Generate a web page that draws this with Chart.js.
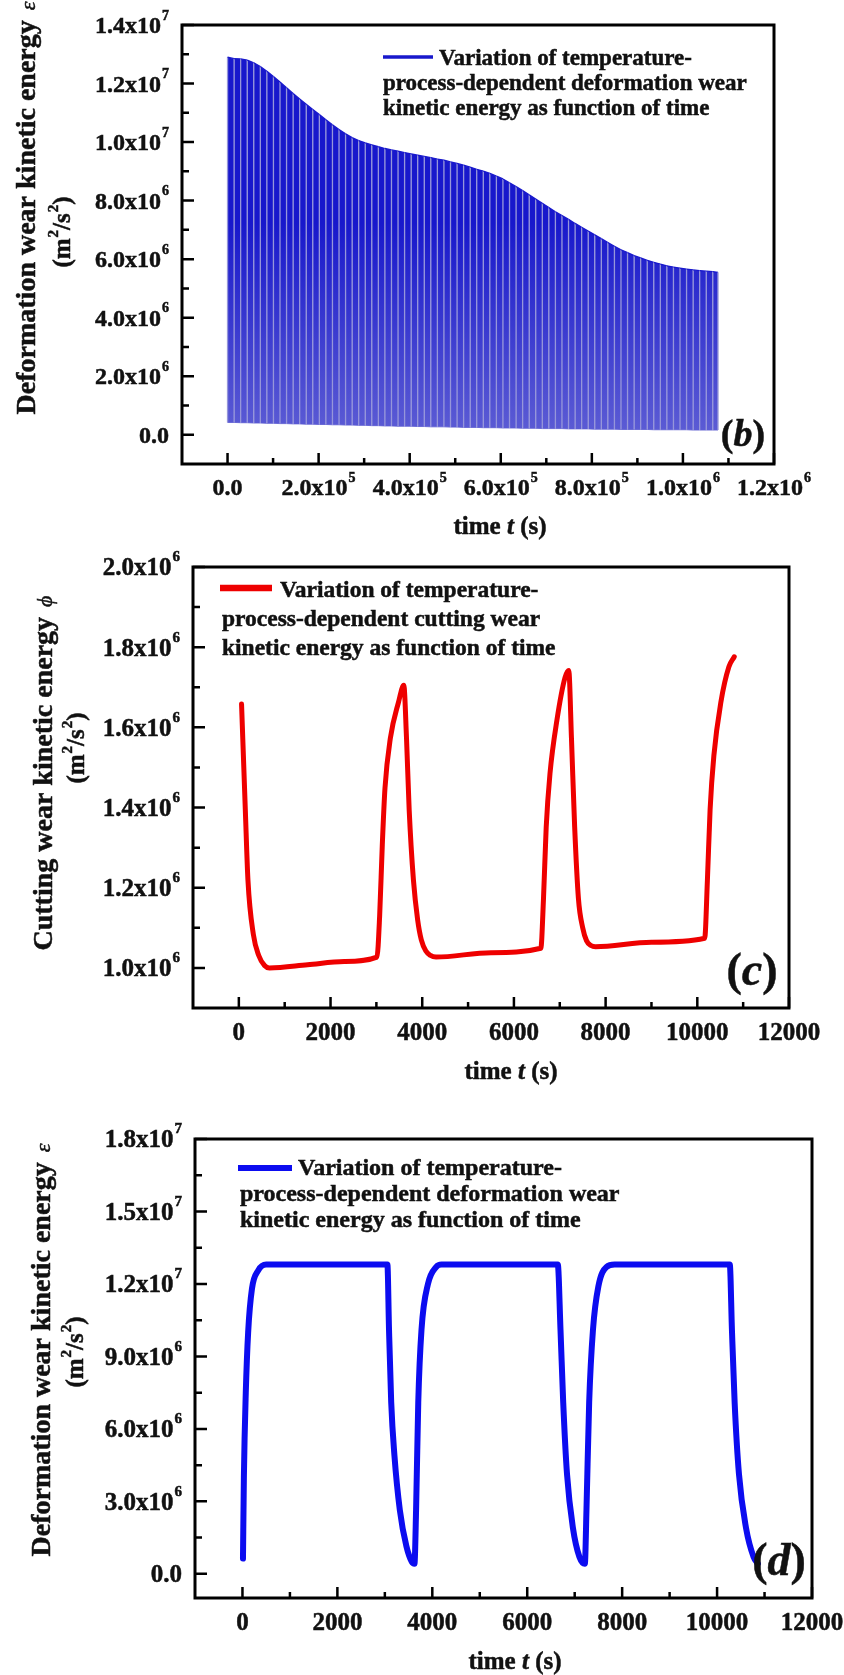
<!DOCTYPE html>
<html lang="en">
<head>
<meta charset="UTF-8">
<title>Wear kinetic energy as function of time</title>
<script src="https://cdn.jsdelivr.net/npm/chart.js@4"></script>
<style>
  body { margin: 0; background: #fff; }
  .wrap { position: relative; width: 844px; height: 1675px; }
  canvas { position: absolute; left: 0; }
</style>
</head>
<body>
<div class="wrap">
  <canvas id="panelB" width="844" height="545" style="top:0px"></canvas>
  <canvas id="panelC" width="844" height="555" style="top:545px"></canvas>
  <canvas id="panelD" width="844" height="575" style="top:1100px"></canvas>
</div>
<script>
// ---- (b) deformation wear kinetic energy, one entry per loading cycle ----
const bCycleTime = [0, 14400, 28800, 43200, 57600, 72000, 86400, 100800, 115200, 129600,
  144000, 158400, 172800, 187200, 201600, 216000, 230400, 244800, 259200, 273600,
  288000, 302400, 316800, 331200, 345600, 360000, 374400, 388800, 403200, 417600,
  432000, 446400, 460800, 475200, 489600, 504000, 518400, 532800, 547200, 561600,
  576000, 590400, 604800, 619200, 633600, 648000, 662400, 676800, 691200, 705600,
  720000, 734400, 748800, 763200, 777600, 792000, 806400, 820800, 835200, 849600,
  864000, 878400, 892800, 907200, 921600, 936000, 950400, 964800, 979200, 993600,
  1008000, 1022400, 1036800, 1051200, 1065600];
const bPeak = [12.9e6, 12.85e6, 12.84e6, 12.80e6, 12.71e6, 12.58e6, 12.42e6, 12.24e6, 12.05e6, 11.86e6,
  11.66e6, 11.47e6, 11.29e6, 11.11e6, 10.94e6, 10.76e6, 10.59e6, 10.43e6, 10.28e6, 10.15e6,
  10.05e6, 9.97e6, 9.90e6, 9.84e6, 9.78e6, 9.73e6, 9.69e6, 9.64e6, 9.60e6, 9.55e6,
  9.51e6, 9.47e6, 9.42e6, 9.38e6, 9.32e6, 9.27e6, 9.21e6, 9.14e6, 9.07e6, 9.01e6,
  8.93e6, 8.84e6, 8.74e6, 8.61e6, 8.48e6, 8.34e6, 8.20e6, 8.05e6, 7.91e6, 7.76e6,
  7.62e6, 7.49e6, 7.36e6, 7.22e6, 7.09e6, 6.96e6, 6.83e6, 6.70e6, 6.57e6, 6.44e6,
  6.32e6, 6.22e6, 6.12e6, 6.04e6, 5.96e6, 5.89e6, 5.83e6, 5.77e6, 5.73e6, 5.69e6,
  5.66e6, 5.63e6, 5.61e6, 5.59e6, 5.57e6];
const bTrough = [0.42e6, 0.42e6, 0.41e6, 0.41e6, 0.40e6, 0.40e6, 0.39e6, 0.39e6, 0.38e6, 0.38e6,
  0.37e6, 0.37e6, 0.36e6, 0.36e6, 0.35e6, 0.35e6, 0.34e6, 0.34e6, 0.33e6, 0.33e6,
  0.32e6, 0.32e6, 0.31e6, 0.31e6, 0.30e6, 0.30e6, 0.29e6, 0.29e6, 0.29e6, 0.28e6,
  0.28e6, 0.27e6, 0.27e6, 0.27e6, 0.26e6, 0.26e6, 0.25e6, 0.25e6, 0.25e6, 0.24e6,
  0.24e6, 0.24e6, 0.23e6, 0.23e6, 0.23e6, 0.22e6, 0.22e6, 0.22e6, 0.21e6, 0.21e6,
  0.21e6, 0.21e6, 0.20e6, 0.20e6, 0.20e6, 0.20e6, 0.19e6, 0.19e6, 0.19e6, 0.19e6,
  0.18e6, 0.18e6, 0.18e6, 0.18e6, 0.18e6, 0.17e6, 0.17e6, 0.17e6, 0.17e6, 0.17e6,
  0.17e6, 0.16e6, 0.16e6, 0.16e6, 0.16e6];
const bEndTime = 1077000, bEndPeak = 5.55e6, bEndTrough = 0.16e6;
const bXTicks = [0, 2e5, 4e5, 6e5, 8e5, 1e6, 1.2e6];
const bYTicks = [0, 2e6, 4e6, 6e6, 8e6, 1e7, 1.2e7, 1.4e7];

// ---- (c) cutting wear kinetic energy ----
const cTime = [59, 141, 199, 316, 434, 560, 668, 1500, 2300, 3012,
  3071, 3129, 3188, 3305, 3481, 3598,
  3657, 3715, 3809, 3900, 3980, 4080, 4180, 4301, 5500, 6587,
  6645, 6704, 6786, 6938, 7114, 7196,
  7255, 7325, 7407, 7500, 7583, 7680, 7780, 9000, 10161,
  10220, 10279, 10361, 10513, 10689, 10806];
const cEnergy = [1.658e6, 1.395e6, 1.218e6, 1.084e6, 1.031e6, 1.006e6, 1.000e6, 1.008e6, 1.016e6, 1.027e6,
  1.129e6, 1.307e6, 1.449e6, 1.573e6, 1.662e6, 1.705e6,
  1.573e6, 1.395e6, 1.218e6, 1.120e6, 1.070e6, 1.042e6, 1.031e6, 1.027e6, 1.038e6, 1.049e6,
  1.173e6, 1.351e6, 1.484e6, 1.618e6, 1.724e6, 1.742e6,
  1.573e6, 1.351e6, 1.173e6, 1.100e6, 1.068e6, 1.056e6, 1.053e6, 1.064e6, 1.074e6,
  1.218e6, 1.395e6, 1.529e6, 1.662e6, 1.751e6, 1.776e6];
const cXTicks = [0, 2000, 4000, 6000, 8000, 10000, 12000];
const cYTicks = [1.0e6, 1.2e6, 1.4e6, 1.6e6, 1.8e6, 2.0e6];

// ---- (d) deformation wear kinetic energy, short run ----
const dTime = [11, 30, 70, 120, 200, 330, 500, 3054,
  3088, 3134, 3202, 3316, 3453, 3567, 3624, 3658, 3704, 3772, 3909, 4080, 4194, 6644,
  6701, 6758, 6838, 6963, 7100, 7214, 7248, 7305, 7385, 7499, 7670, 7840, 10268,
  10313, 10370, 10461, 10610, 10769, 10860];
const dEnergy = [0.63e6, 4.0e6, 7.5e6, 10.0e6, 11.8e6, 12.55e6, 12.8e6, 12.8e6,
  10.1e6, 7.1e6, 4.9e6, 2.64e6, 1.15e6, 0.5e6, 0.42e6, 2.64e6, 7.1e6, 10.1e6, 12.0e6, 12.7e6, 12.8e6, 12.8e6,
  10.1e6, 7.1e6, 4.13e6, 1.9e6, 0.7e6, 0.42e6, 2.64e6, 7.1e6, 10.1e6, 11.9e6, 12.7e6, 12.8e6, 12.8e6,
  10.1e6, 7.1e6, 4.13e6, 1.9e6, 0.7e6, 0.42e6];
const dXTicks = [0, 2000, 4000, 6000, 8000, 10000, 12000];
const dYTicks = [0, 3e6, 6e6, 9e6, 1.2e7, 1.5e7, 1.8e7];

const legendDeform = ['Variation of temperature-', 'process-dependent deformation wear', 'kinetic energy as function of time'];
const legendCutting = ['Variation of temperature-', 'process-dependent cutting wear', 'kinetic energy as function of time'];

const B_BLUE = 'rgb(24,24,204)';
const B_LOW = 'rgb(92,92,212)';
const B_STREAK = 'rgb(150,150,218)';
const RED = 'rgb(238,0,0)';
const D_BLUE = 'rgb(12,12,240)';
const SERIF = '"Liberation Serif", "Times New Roman", Times, serif';

function setFont(ctx, r) {
  ctx.font = (r.style || 'bold') + ' ' + r.size + 'px ' + SERIF;
}
function runsWidth(ctx, runs) {
  let w = 0;
  runs.forEach(r => { setFont(ctx, r); w += (r.dx || 0) + ctx.measureText(r.text).width; });
  return w;
}
// draw a row of text pieces with their own font/raise (slightly emboldened)
function drawRuns(ctx, runs, x, y, align) {
  const w = runsWidth(ctx, runs);
  let cx = align === 'center' ? x - w / 2 : align === 'right' ? x - w : x;
  ctx.lineWidth = 0.5;
  ctx.strokeStyle = ctx.fillStyle;
  runs.forEach(r => {
    setFont(ctx, r);
    cx += r.dx || 0;
    ctx.fillText(r.text, cx, y - (r.rise || 0));
    ctx.strokeText(r.text, cx, y - (r.rise || 0));
    cx += ctx.measureText(r.text).width;
  });
}
function sciRuns(v, size, sup) {
  if (v === 0) return [{ text: '0.0', size }];
  const e = Math.floor(Math.log10(v) + 1e-9);
  const m = v / Math.pow(10, e);
  return [{ text: m.toFixed(1) + 'x10', size }, { text: String(e), size: sup, rise: size * 0.56, dx: 1 }];
}
function minors(ticks) {
  const out = [];
  for (let i = 0; i < ticks.length - 1; i++) out.push((ticks[i] + ticks[i + 1]) / 2);
  return out;
}

function figurePlugin(s) {
  return {
    id: 'figure',
    afterDraw(chart) {
      const ctx = chart.ctx, a = chart.chartArea;
      const sx = chart.scales.x, sy = chart.scales.y;
      const off = s.top;
      ctx.save();
      ctx.strokeStyle = '#000';
      ctx.textBaseline = 'alphabetic';

      // inward tick marks
      ctx.lineWidth = 2.5;
      ctx.beginPath();
      s.yTicks.forEach(v => { const p = sy.getPixelForValue(v); ctx.moveTo(a.left, p); ctx.lineTo(a.left + 12, p); });
      minors(s.yTicks).forEach(v => { const p = sy.getPixelForValue(v); ctx.moveTo(a.left, p); ctx.lineTo(a.left + 7, p); });
      s.xTicks.forEach(v => { const p = sx.getPixelForValue(v); ctx.moveTo(p, a.bottom); ctx.lineTo(p, a.bottom - 11); });
      minors(s.xTicks).forEach(v => { const p = sx.getPixelForValue(v); ctx.moveTo(p, a.bottom); ctx.lineTo(p, a.bottom - 6); });
      ctx.stroke();

      // frame
      ctx.lineWidth = 3;
      ctx.strokeRect(a.left, a.top, a.right - a.left, a.bottom - a.top);

      ctx.fillStyle = '#111';
      // tick labels
      const ts = s.tickSize;
      s.yTicks.forEach(v => {
        const p = sy.getPixelForValue(v);
        drawRuns(ctx, sciRuns(v, ts, s.supSize), a.left - 13, p + ts * 0.338, 'right');
      });
      s.xTicks.forEach(v => {
        const p = sx.getPixelForValue(v);
        const runs = s.xSci ? sciRuns(v, ts, s.supSize) : [{ text: String(v), size: ts }];
        drawRuns(ctx, runs, p, s.xLabelY - off + ts * 0.338, 'center');
      });

      // x title
      const xt = s.xTitle;
      drawRuns(ctx, [
        { text: 'time ', size: xt.size },
        { text: 't', size: xt.size, style: 'italic bold' },
        { text: ' (s)', size: xt.size }
      ], xt.cx, xt.base - off, 'center');

      // y title, two rotated lines
      const yt = s.yTitle;
      ctx.save();
      ctx.translate(yt.x, yt.cy - off);
      ctx.rotate(-Math.PI / 2);
      drawRuns(ctx, [
        { text: yt.text, size: yt.size },
        { text: yt.sym, size: 22, style: 'italic', dx: 10 }
      ], 0, 0, 'center');
      ctx.restore();
      const yu = s.yUnit;
      ctx.save();
      ctx.translate(yu.x, yu.cy - off);
      ctx.rotate(-Math.PI / 2);
      drawRuns(ctx, [
        { text: '(m', size: yu.size },
        { text: '2', size: 15, rise: 12, dx: 1 },
        { text: '/s', size: yu.size },
        { text: '2', size: 15, rise: 12, dx: 1 },
        { text: ')', size: yu.size }
      ], 0, 0, 'center');
      ctx.restore();

      // legend
      const lg = s.legend;
      ctx.strokeStyle = lg.color;
      ctx.lineWidth = lg.width;
      ctx.beginPath();
      ctx.moveTo(lg.x1, lg.y - off);
      ctx.lineTo(lg.x2, lg.y - off);
      ctx.stroke();
      lg.lines.forEach((t, i) => {
        drawRuns(ctx, [{ text: t, size: lg.size }], i === 0 ? lg.textX : lg.indentX, lg.bases[i] - off, 'left');
      });

      // panel letter
      const pl = s.letter;
      drawRuns(ctx, [
        { text: '(', size: pl.size },
        { text: pl.ch, size: pl.size, style: 'italic bold' },
        { text: ')', size: pl.size }
      ], pl.cx, pl.base - off, 'center');
      ctx.restore();
    }
  };
}

function makeChart(id, datasets, lim, pad, spec) {
  return new Chart(document.getElementById(id), {
    type: 'line',
    data: { datasets },
    options: {
      responsive: false,
      animation: false,
      layout: { padding: pad },
      plugins: { legend: { display: false }, tooltip: { enabled: false } },
      elements: { point: { radius: 0 } },
      scales: {
        x: {
          type: 'linear', min: lim.x[0], max: lim.x[1],
          grid: { display: false }, border: { display: false }, ticks: { display: false },
          afterFit: sc => { sc.height = 0; }
        },
        y: {
          type: 'linear', min: lim.y[0], max: lim.y[1],
          grid: { display: false }, border: { display: false }, ticks: { display: false },
          afterFit: sc => { sc.width = 0; }
        }
      }
    },
    plugins: [figurePlugin(spec)]
  });
}

// (b): each cycle drops to its trough and climbs back, filled down to the trough line
const bPulse = [];
bCycleTime.forEach((t, i) => {
  bPulse.push({ x: t, y: bPeak[i] }, { x: t, y: bTrough[i] }, { x: t, y: bPeak[i] });
});
bPulse.push({ x: bEndTime, y: bEndPeak }, { x: bEndTime, y: bEndTrough });
const bFloor = bCycleTime.map((t, i) => ({ x: t, y: bTrough[i] }));
bFloor.push({ x: bEndTime, y: bEndTrough });

function bShade(c) {
  const a = c.chart.chartArea;
  if (!a) return B_BLUE;
  const g = c.chart.ctx.createLinearGradient(0, a.top, 0, a.bottom);
  g.addColorStop(0, B_BLUE);
  g.addColorStop(0.45, B_BLUE);
  g.addColorStop(0.93, B_LOW);
  g.addColorStop(1, B_LOW);
  return g;
}

makeChart('panelB', [
  {
    data: bPulse, borderColor: B_BLUE, backgroundColor: bShade, borderWidth: 1.3,
    fill: 1, tension: 0, borderCapStyle: 'butt',
    segment: { borderColor: c => (c.p0.parsed.x === c.p1.parsed.x ? B_STREAK : B_BLUE) }
  },
  { data: bFloor, borderColor: 'rgb(120,120,215)', borderWidth: 1, fill: false, tension: 0 }
], { x: [-1e5, 1.2e6], y: [-1e6, 1.4e7] }, { left: 182, top: 25, right: 70, bottom: 81 }, {
  top: 0, xTicks: bXTicks, yTicks: bYTicks, xSci: true, tickSize: 24, supSize: 14,
  xLabelY: 487,
  xTitle: { cx: 500, base: 534, size: 25 },
  yTitle: { text: 'Deformation wear kinetic energy', sym: 'ε', x: 35, cy: 208, size: 28 },
  yUnit: { x: 70, cy: 232, size: 25 },
  legend: { color: B_BLUE, width: 3.5, x1: 383, x2: 433, y: 57, textX: 439, indentX: 383,
    bases: [65, 90, 115], size: 23, lines: legendDeform },
  letter: { ch: 'b', cx: 743, base: 446, size: 38 }
});

makeChart('panelC', [
  {
    data: cTime.map((t, i) => ({ x: t, y: cEnergy[i] })),
    borderColor: RED, borderWidth: 5, fill: false,
    cubicInterpolationMode: 'monotone', borderJoinStyle: 'round', borderCapStyle: 'round'
  }
], { x: [-1000, 12000], y: [0.9e6, 2.0e6] }, { left: 193, top: 22, right: 55, bottom: 92 }, {
  top: 545, xTicks: cXTicks, yTicks: cYTicks, xSci: false, tickSize: 25, supSize: 15,
  xLabelY: 1032,
  xTitle: { cx: 511, base: 1079, size: 25 },
  yTitle: { text: 'Cutting wear kinetic energy', sym: 'ϕ', x: 52, cy: 773, size: 28 },
  yUnit: { x: 84, cy: 748, size: 25 },
  legend: { color: RED, width: 6.5, x1: 220, x2: 272, y: 588, textX: 280, indentX: 222,
    bases: [597, 626, 655], size: 23.5, lines: legendCutting },
  letter: { ch: 'c', cx: 752, base: 985, size: 46 }
});

makeChart('panelD', [
  {
    data: dTime.map((t, i) => ({ x: t, y: dEnergy[i] })),
    borderColor: D_BLUE, borderWidth: 6, fill: false,
    cubicInterpolationMode: 'monotone', borderJoinStyle: 'round', borderCapStyle: 'round'
  }
], { x: [-1000, 12000], y: [-1e6, 1.8e7] }, { left: 195, top: 39, right: 32, bottom: 77 }, {
  top: 1100, xTicks: dXTicks, yTicks: dYTicks, xSci: false, tickSize: 25, supSize: 15,
  xLabelY: 1622,
  xTitle: { cx: 515, base: 1669, size: 25 },
  yTitle: { text: 'Deformation wear kinetic energy', sym: 'ε', x: 50, cy: 1350, size: 28 },
  yUnit: { x: 83, cy: 1352, size: 25 },
  legend: { color: D_BLUE, width: 6, x1: 238, x2: 292, y: 1168, textX: 298, indentX: 240,
    bases: [1175, 1201, 1227], size: 24, lines: legendDeform },
  letter: { ch: 'd', cx: 779, base: 1575, size: 46 }
});
</script>
</body>
</html>
